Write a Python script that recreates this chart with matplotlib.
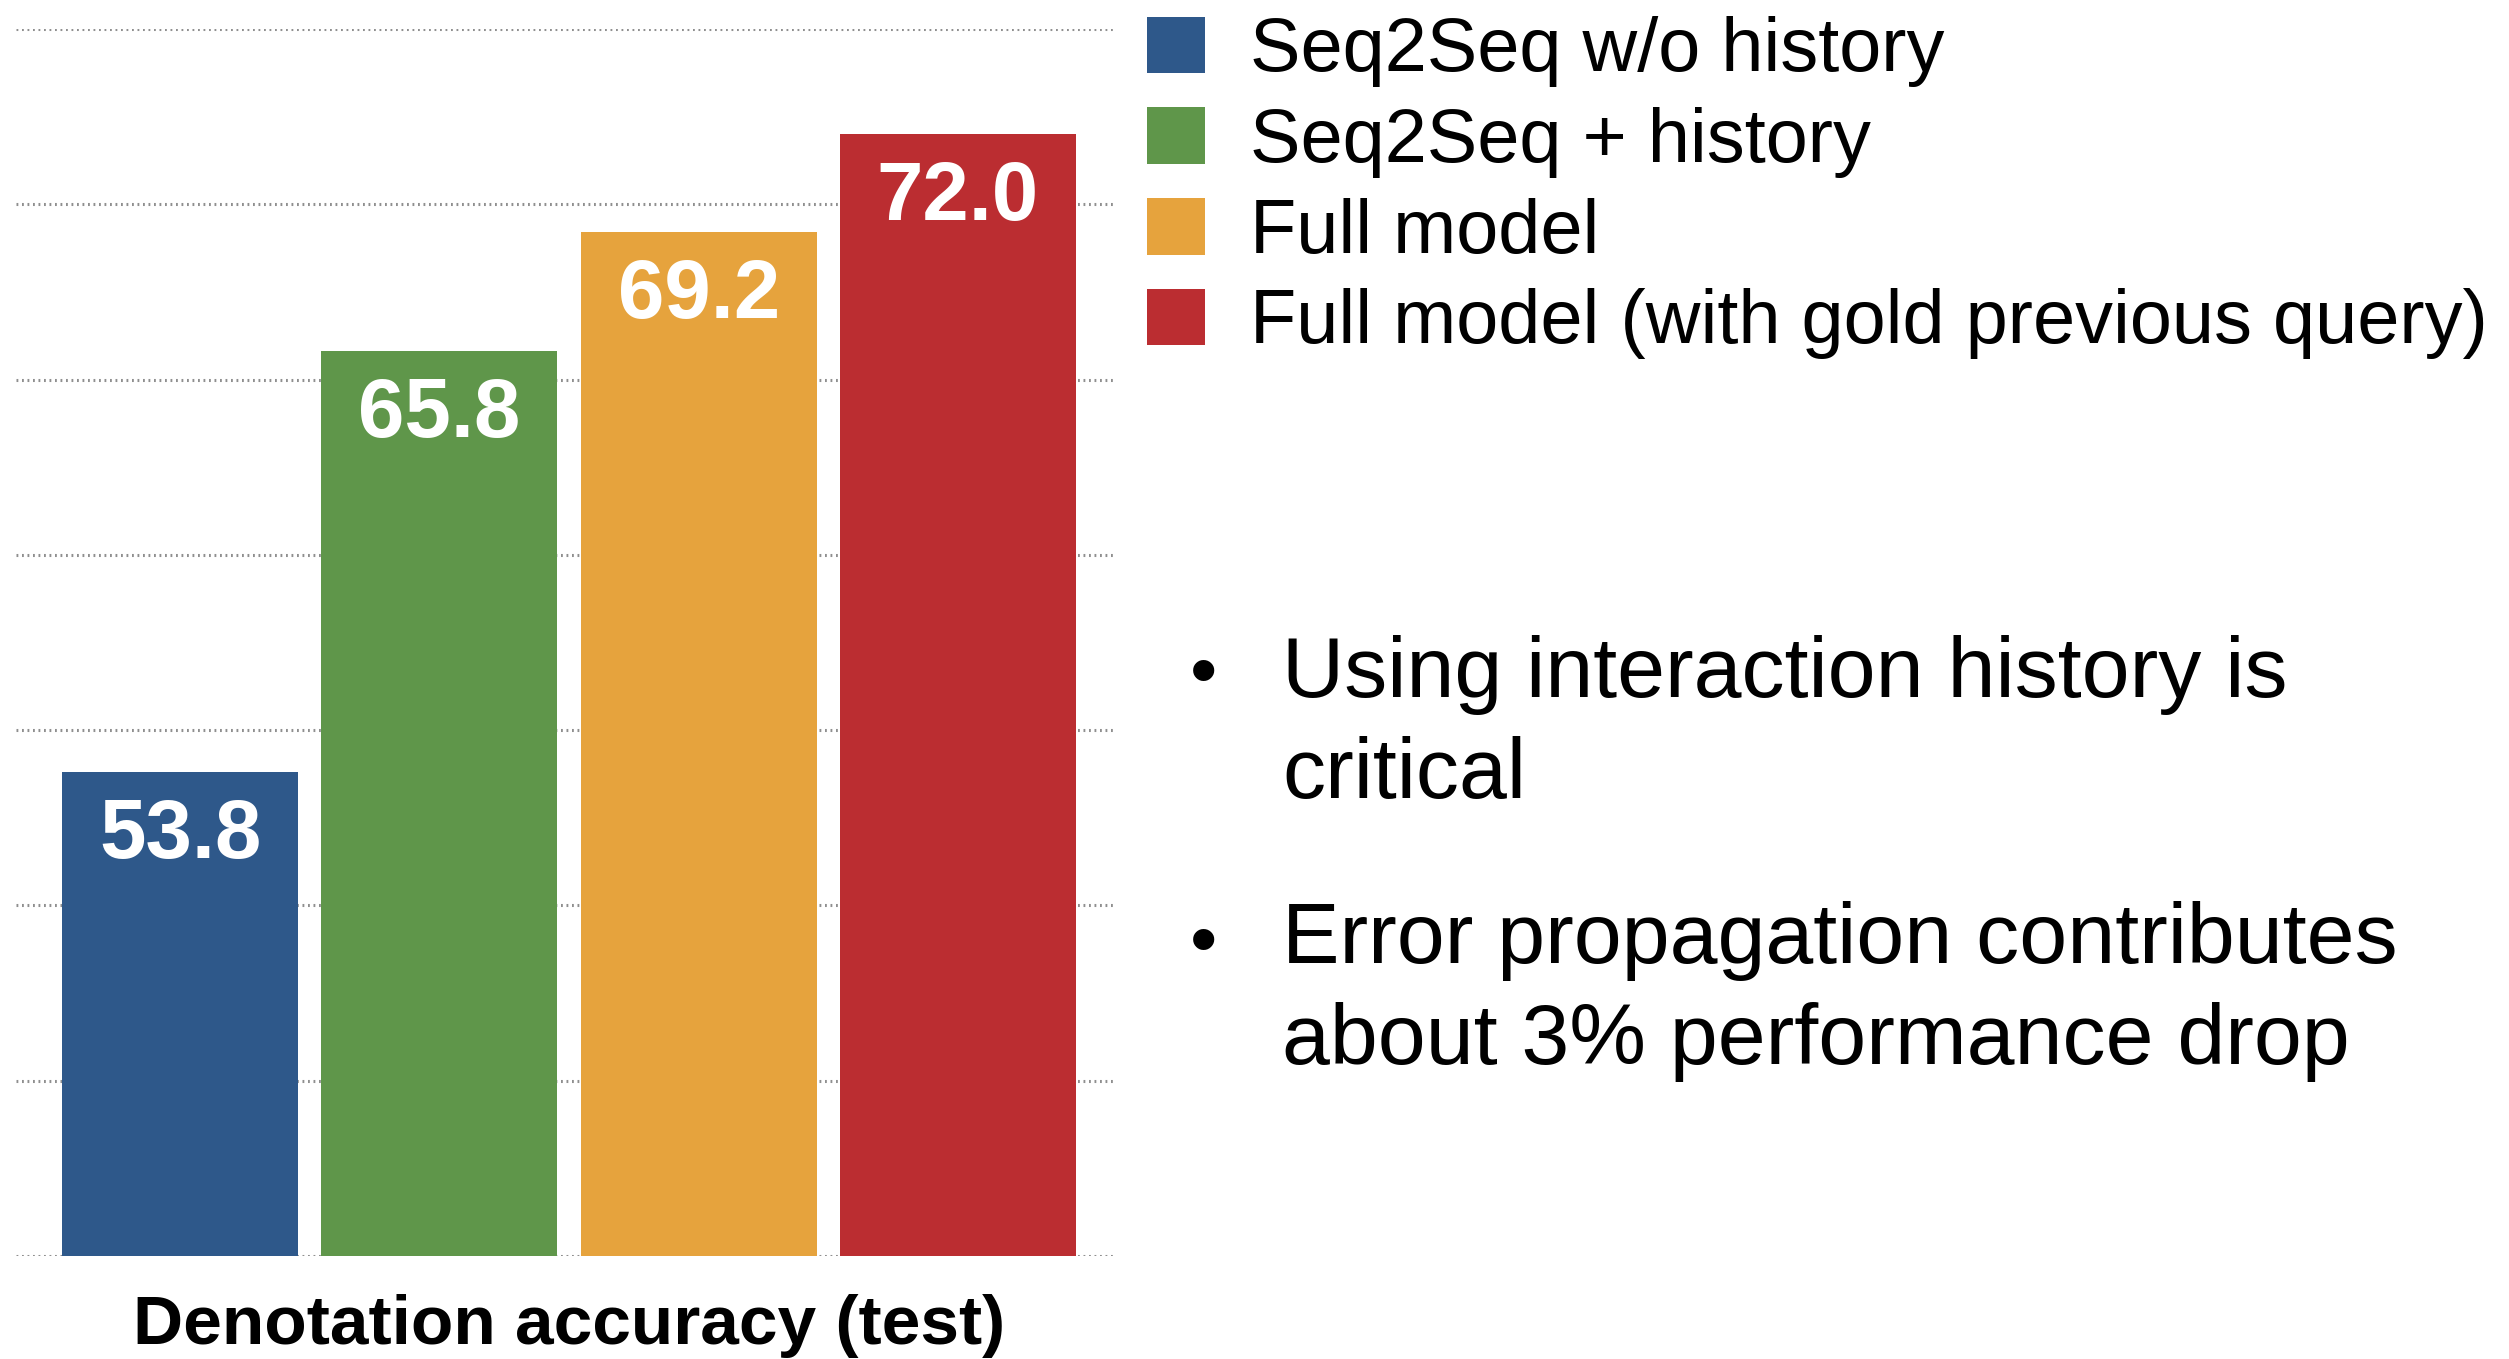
import numpy as np
import matplotlib
matplotlib.use("Agg")
import matplotlib.pyplot as plt

plt.rcParams['font.family'] = ['Liberation Sans', 'DejaVu Sans']

# data
models = ["Seq2Seq w/o history", "Seq2Seq + history", "Full model",
          "Full model (with gold previous query)"]
accuracy = [53.8, 65.8, 69.2, 72.0]
colors = ["#2E588A", "#5F964A", "#E6A33D", "#BB2D31"]
bullets = ["Using interaction history is\ncritical",
           "Error propagation contributes\nabout 3% performance drop"]

fig = plt.figure(figsize=(25.09, 13.59), dpi=100)
ax = fig.add_axes([0.0064, 0.0758, 0.4384, 0.9029])

x = np.arange(len(models))
bars = ax.bar(x, accuracy, width=0.91, color=colors, zorder=2)

for xi, v in zip(x, accuracy):
    ax.annotate(f"{v:.1f}", (xi, v), xytext=(0, -46), textcoords="offset points",
                ha="center", va="center", color="white", fontsize=60,
                fontweight="bold")

ax.set_ylim(40, 75)
ax.set_xlim(-0.633, 3.61)
ax.set_yticks(np.arange(40, 76, 5))
ax.yaxis.grid(True, linestyle=(0, (0.6, 1.2)), color="#8f8f8f", linewidth=2.2)
ax.set_axisbelow(True)
ax.tick_params(left=False, bottom=False, labelleft=False, labelbottom=False)
for s in ax.spines.values():
    s.set_visible(False)

fig.text(0.227, 0.024, "Denotation accuracy (test)", ha="center", va="center",
         fontsize=50, fontweight="bold")

leg = ax.legend(bars, models, loc="upper left", bbox_to_anchor=(0.457, 0.988),
                bbox_transform=fig.transFigure, frameon=False, fontsize=54.5,
                handlelength=0.77, handleheight=0.77, handletextpad=0.59,
                labelspacing=0.26, borderpad=0, borderaxespad=0)

# bullet points
fig.text(0.4795, 0.503, "•", fontsize=56, ha="center", va="center")
fig.text(0.511, 0.5326, bullets[0], fontsize=62, ha="left", va="top",
         linespacing=1.34)
fig.text(0.4795, 0.305, "•", fontsize=56, ha="center", va="center")
fig.text(0.511, 0.3368, bullets[1], fontsize=62, ha="left", va="top",
         linespacing=1.34)

fig.savefig("out.png", dpi=100)
